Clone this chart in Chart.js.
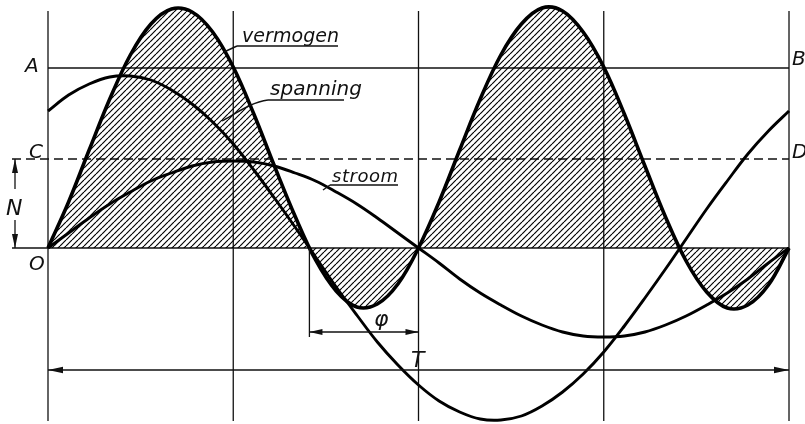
<!DOCTYPE html>
<html>
<head>
<meta charset="utf-8">
<script src="https://cdn.jsdelivr.net/npm/chart.js@4.4.1/dist/chart.umd.min.js"></script>
<style>
  html, body { margin: 0; padding: 0; background: #fff; }
  canvas { display: block; }
</style>
</head>
<body>
<canvas id="chart" width="805" height="424"></canvas>
<script>
// phase angle in degrees, one full period T = 360
const angles   = [0, 10, 20, 30, 40, 50, 60, 70, 80, 90, 100, 110, 120, 130, 140, 150, 160, 170, 180,
                  190, 200, 210, 220, 230, 240, 250, 260, 270, 280, 290, 300, 310, 320, 330, 340, 350, 360];
const spanning = [137, 153, 164, 171, 172, 168, 158, 144, 126, 104, 78, 50, 21, -9, -39, -67, -94, -117, -137,
                  -153, -164, -171, -172, -168, -158, -144, -126, -104, -78, -50, -21, 9, 39, 67, 94, 117, 137];
const stroom   = [0, 15, 30, 44, 56, 67, 75, 82, 86, 87, 86, 82, 75, 67, 56, 44, 30, 15, 0,
                  -15, -31, -45, -57, -68, -77, -84, -88, -89, -88, -84, -77, -68, -57, -45, -31, -15, 0];
const vermogen = [0, 46, 98, 149, 193, 224, 239, 236, 216, 181, 134, 82, 32, -12, -43, -59, -56, -36, 0,
                  46, 98, 149, 193, 224, 240, 237, 216, 181, 134, 82, 31, -13, -44, -60, -57, -37, 0];

const levelA = 180;      // power at a quarter period (A - B)
const levelN = 89;       // mean power N (C - D)
const phi = 53;          // phase shift between spanning and stroom
const quarters = [0, 90, 180, 270, 360];

const canvas = document.getElementById('chart');
const ctx0 = canvas.getContext('2d');

// diagonal hatching for the power area
function hatchPattern() {
  const c = document.createElement('canvas');
  c.width = 6; c.height = 6;
  const g = c.getContext('2d');
  g.strokeStyle = '#000';
  g.lineWidth = 1.15;
  for (const k of [-6, 0, 6]) {
    g.beginPath();
    g.moveTo(k, 6);
    g.lineTo(k + 6, 0);
    g.stroke();
  }
  return ctx0.createPattern(c, 'repeat');
}

const toPoints = arr => angles.map((a, i) => ({ x: a, y: arr[i] }));

function arrowHead(ctx, x, y, dx, dy, len = 15, half = 3.2) {
  const nx = -dy, ny = dx;
  ctx.beginPath();
  ctx.moveTo(x, y);
  ctx.lineTo(x - dx * len + nx * half, y - dy * len + ny * half);
  ctx.lineTo(x - dx * len - nx * half, y - dy * len - ny * half);
  ctx.closePath();
  ctx.fill();
}

function line(ctx, x1, y1, x2, y2) {
  ctx.beginPath();
  ctx.moveTo(x1, y1);
  ctx.lineTo(x2, y2);
  ctx.stroke();
}

// text stretched to a given width by letter spacing
function label(ctx, text, x, y, width, font) {
  ctx.font = font;
  ctx.letterSpacing = '0px';
  if (width) {
    const w = ctx.measureText(text).width;
    const sp = (width - w) / Math.max(1, text.length - 1);
    ctx.letterSpacing = sp.toFixed(2) + 'px';
  }
  ctx.fillText(text, x, y);
  ctx.letterSpacing = '0px';
}

const drawing = {
  id: 'drawing',
  beforeDatasetsDraw(chart) {
    const { ctx, scales: { x, y } } = chart;
    const px = v => x.getPixelForValue(v);
    const py = v => y.getPixelForValue(v);
    ctx.save();
    ctx.strokeStyle = '#111';
    ctx.lineWidth = 1.3;

    // quarter-period verticals
    quarters.forEach(q => line(ctx, px(q), py(237), px(q), py(-173)));

    // zero line, A-B and dashed C-D
    line(ctx, 12, py(0), px(360), py(0));
    line(ctx, px(0), py(levelA), px(360), py(levelA));
    ctx.setLineDash([9, 5]);
    line(ctx, 12, py(levelN), px(360), py(levelN));
    ctx.setLineDash([]);
    ctx.restore();
  },
  afterDatasetsDraw(chart) {
    const { ctx, scales: { x, y } } = chart;
    const px = v => x.getPixelForValue(v);
    const py = v => y.getPixelForValue(v);
    ctx.save();
    ctx.strokeStyle = '#111';
    ctx.fillStyle = '#111';
    ctx.lineWidth = 1.3;

    // period T
    const yT = py(-122);
    line(ctx, px(0), yT, px(360), yT);
    arrowHead(ctx, px(0), yT, -1, 0);
    arrowHead(ctx, px(360), yT, 1, 0);

    // phase shift
    const yP = py(-84);
    line(ctx, px(180 - phi), py(0), px(180 - phi), py(-89));
    line(ctx, px(180 - phi), yP, px(180), yP);
    arrowHead(ctx, px(180 - phi), yP, -1, 0, 13, 3);
    arrowHead(ctx, px(180), yP, 1, 0, 13, 3);

    // mean power N
    const xN = 15;
    line(ctx, xN, py(levelN), xN, py(levelN) + 30);
    line(ctx, xN, py(0) - 28, xN, py(0));
    arrowHead(ctx, xN, py(levelN), 0, -1, 14, 3);
    arrowHead(ctx, xN, py(0), 0, 1, 14, 3);

    // leaders and underlines of the curve names
    ctx.lineWidth = 1.4;
    line(ctx, 237, 46, 338, 46);
    line(ctx, 237, 46, 224, 52);
    line(ctx, 268, 100, 344, 100);
    ctx.beginPath();
    ctx.moveTo(268, 100);
    ctx.bezierCurveTo(252, 102, 238, 112, 222, 121);
    ctx.stroke();
    line(ctx, 330, 185, 398, 185);
    line(ctx, 330, 185, 323, 190);

    // texts
    const cap = 'italic 20px "DejaVu Sans"';
    label(ctx, 'vermogen', 242, 42, 97, 'italic 19px "DejaVu Sans"');
    label(ctx, 'spanning', 270, 95, 92, 'italic 20px "DejaVu Sans"');
    label(ctx, 'stroom', 332, 182, 66, 'italic 18px "DejaVu Sans"');

    label(ctx, 'A', 25, 72, 0, cap);
    label(ctx, 'B', 792, 65, 0, cap);
    label(ctx, 'C', 29, 158, 0, cap);
    label(ctx, 'D', 792, 158, 0, cap);
    label(ctx, 'O', 29, 270, 0, cap);
    label(ctx, 'T', 411, 367, 0, 'italic 22px "DejaVu Sans"');
    ctx.fillStyle = '#fff';
    ctx.fillRect(6, 193, 18, 24);
    ctx.fillStyle = '#111';
    label(ctx, 'N', 6, 215, 0, 'italic 22px "DejaVu Sans"');
    label(ctx, '\u03C6', 374, 326, 0, 'italic 22px "DejaVu Sans"');
    ctx.restore();
  }
};

const curve = {
  borderColor: '#000',
  pointRadius: 0,
  tension: 0.36
};

new Chart(canvas, {
  type: 'line',
  data: {
    datasets: [
      {
        ...curve,
        label: 'vermogen',
        data: toPoints(vermogen),
        borderWidth: 3.6,
        backgroundColor: hatchPattern(),
        fill: 'origin'
      },
      {
        ...curve,
        label: 'spanning',
        data: toPoints(spanning),
        borderWidth: 2.9,
        fill: false
      },
      {
        ...curve,
        label: 'stroom',
        data: toPoints(stroom),
        borderWidth: 2.9,
        fill: false
      }
    ]
  },
  options: {
    responsive: false,
    animation: false,
    layout: { padding: 0 },
    plugins: {
      legend: { display: false },
      tooltip: { enabled: false }
    },
    scales: {
      x: { type: 'linear', min: -23.32, max: 367.77, display: false },
      y: { min: -176, max: 248, display: false }
    }
  },
  plugins: [drawing]
});
</script>
</body>
</html>
